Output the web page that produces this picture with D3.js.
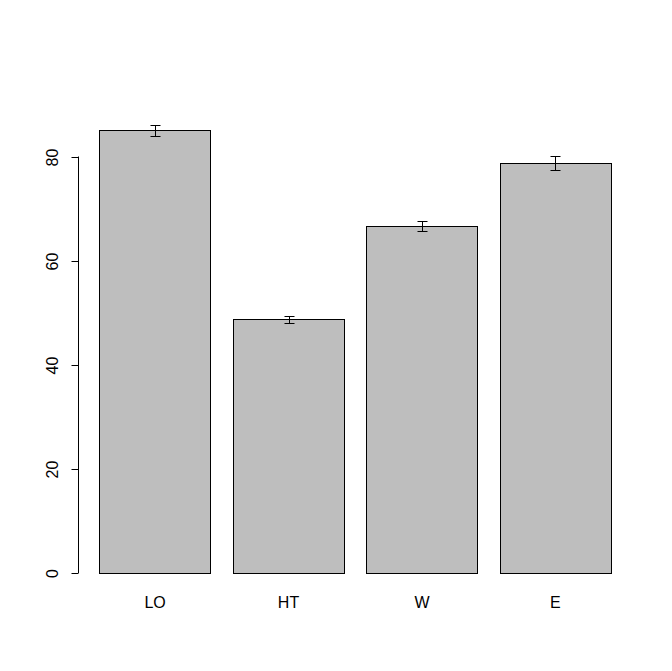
<!DOCTYPE html>
<html lang="en">
<head>
    <meta charset="UTF-8">
    <title>Bar plot with error bars</title>
    <script src="https://d3js.org/d3.v7.min.js"></script>
    <style>
        body {
            margin: 0;
            background: #fff;
        }
        text {
            font-family: "Liberation Sans", Arial, sans-serif;
            font-size: 16px;
            fill: #000;
        }
    </style>
</head>
<body>
    <svg id="chart" width="672" height="671"></svg>
    <script>
        // data
        const categories = ["LO", "HT", "W", "E"];
        const means = [85.0, 48.7, 66.7, 78.7];
        const errors = [1.06, 0.67, 0.96, 1.35];
        const yTicks = [0, 20, 40, 60, 80];

        const svg = d3.select("#chart");

        const x = d3.scaleBand()
            .domain(categories)
            .range([99.5, 611])
            .paddingInner(0.2 / 1.2)
            .paddingOuter(0);

        const y = d3.scaleLinear()
            .domain([0, 80])
            .range([573, 156.5]);

        const rows = categories.map((c, i) => ({ cat: c, mean: means[i], err: errors[i] }));

        // bars
        svg.selectAll("rect.bar")
            .data(rows)
            .join("rect")
            .attr("class", "bar")
            .attr("x", d => Math.round(x(d.cat)) + 0.5)
            .attr("y", d => Math.round(y(d.mean)) + 0.5)
            .attr("width", Math.round(x.bandwidth()))
            .attr("height", d => Math.round(y(0)) - Math.round(y(d.mean)))
            .attr("fill", "#bebebe")
            .attr("stroke", "#000")
            .attr("stroke-width", 1);

        // error bars
        const eb = svg.selectAll("g.err")
            .data(rows)
            .join("g")
            .attr("class", "err")
            .attr("stroke", "#000")
            .attr("stroke-width", 1);
        const cx = d => Math.round(x(d.cat) + x.bandwidth() / 2) + 0.5;
        const errTop = d => Math.round(y(d.mean + d.err)) + 0.5;
        const errBot = d => Math.round(y(d.mean - d.err)) + 0.5;
        eb.append("line")
            .attr("x1", cx).attr("x2", cx)
            .attr("y1", errTop)
            .attr("y2", errBot);
        eb.append("line")
            .attr("x1", d => cx(d) - 5).attr("x2", d => cx(d) + 5)
            .attr("y1", errTop)
            .attr("y2", errTop);
        eb.append("line")
            .attr("x1", d => cx(d) - 5).attr("x2", d => cx(d) + 5)
            .attr("y1", errBot)
            .attr("y2", errBot);

        // y axis, R style: rotated labels
        const yAxis = svg.append("g")
            .attr("transform", "translate(78.5,0)")
            .call(d3.axisLeft(y).tickValues(yTicks).tickSize(7).tickSizeOuter(0).offset(0));
        yAxis.select(".domain").attr("stroke", "#000");
        yAxis.selectAll(".tick line").attr("stroke", "#000");
        yAxis.selectAll(".tick").attr("transform", d => `translate(0,${Math.round(y(d)) + 0.5})`);
        yAxis.selectAll(".tick text")
            .attr("x", null).attr("dy", null)
            .attr("transform", "translate(-21,0) rotate(-90)")
            .attr("text-anchor", "middle")
            .style("font-family", "'Liberation Sans', Arial, sans-serif")
            .style("font-size", "16px")
            .attr("fill", "#000");

        // category labels (no axis line, like barplot)
        svg.selectAll("text.cat")
            .data(categories)
            .join("text")
            .attr("class", "cat")
            .attr("x", d => x(d) + x.bandwidth() / 2)
            .attr("y", 608)
            .attr("text-anchor", "middle")
            .text(d => d);
    </script>
</body>
</html>
